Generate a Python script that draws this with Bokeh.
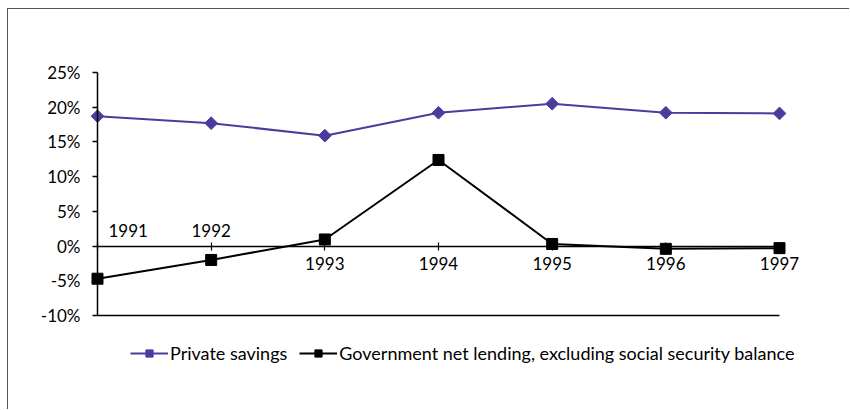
import math
from bokeh.plotting import figure
from bokeh.models import (ColumnDataSource, FixedTicker, PrintfTickFormatter,
                          Legend, LegendItem, Range1d)
from bokeh.core.properties import value
from bokeh.embed import file_html
from bokeh.resources import INLINE

YEARS = [1991, 1992, 1993, 1994, 1995, 1996, 1997]
YEAR_LABELS = ["1991", "1992", "1993", "1994", "1995", "1996", "1997"]
PRIVATE_SAVINGS = [18.7, 17.7, 15.9, 19.2, 20.5, 19.2, 19.1]
GOV_NET_LENDING = [-4.7, -2.0, 0.95, 12.4, 0.3, -0.4, -0.3]
Y_TICKS = [-10, -5, 0, 5, 10, 15, 20, 25]
SERIES_NAMES = ["Private savings",
                "Government net lending, excluding social security balance"]

FONT = "Lato"
PURPLE = "#4a3c9c"

p = figure(width=842, height=401, output_backend="svg", toolbar_location=None,
           x_range=Range1d(1990.305, 1997.563),
           y_range=Range1d(-22.82, 32.63),
           min_border_left=10, min_border_right=7, min_border_top=10,
           min_border_bottom=6,
           styles={"margin-left": "7px", "margin-top": "8px",
                   "border-top": "1px solid #555", "border-left": "1px solid #555"})
p.outline_line_color = None
p.xgrid.visible = False
p.ygrid.visible = False
p.background_fill_color = "white"
p.border_fill_color = "white"

# y axis at first category
yax = p.yaxis[0]
yax.fixed_location = YEARS[0]
yax.ticker = FixedTicker(ticks=Y_TICKS)
yax.bounds = (Y_TICKS[0], Y_TICKS[-1])
yax.formatter = PrintfTickFormatter(format="%d%%")
yax.major_tick_in = 0
yax.major_tick_out = 5
yax.minor_tick_line_color = None
yax.major_label_standoff = 12
yax.axis_line_color = "black"
yax.axis_line_width = 1.5
yax.major_tick_line_width = 1.5
yax.major_label_text_font = FONT
yax.major_label_text_font_size = "17px"
yax.major_label_text_color = "black"

# x axis crossing at zero
xax = p.xaxis[0]
xax.fixed_location = 0
xax.ticker = FixedTicker(ticks=YEARS)
xax.bounds = (YEARS[0], YEARS[-1])
xax.major_label_overrides = {YEARS[0]: "", YEARS[1]: ""}
xax.major_tick_in = 4
xax.major_tick_out = 4
xax.minor_tick_line_color = None
xax.major_label_standoff = 7
xax.axis_line_color = "black"
xax.axis_line_width = 1.5
xax.major_tick_line_width = 1.2
xax.major_label_text_font = FONT
xax.major_label_text_font_size = "17px"
xax.major_label_text_color = "black"

# labels for the first two years sit above the axis
up_src = ColumnDataSource(dict(x=YEARS[:2], y=[0, 0], text=YEAR_LABELS[:2],
                               align=["left", "center"], xoff=[11, 0]))
p.text(x="x", y="y", text="text", source=up_src, text_align="align",
       x_offset="xoff", y_offset=-9, text_baseline="bottom",
       text_font=value(FONT), text_font_size="17px", text_color="black")

# bottom border of plot area
p.line(x=[YEARS[0], YEARS[-1]], y=[Y_TICKS[0], Y_TICKS[0]],
       line_color="black", line_width=1.5)

src = ColumnDataSource(dict(x=YEARS, ps=PRIVATE_SAVINGS, gl=GOV_NET_LENDING,
                            ang=[math.pi / 4] * len(YEARS)))
l1 = p.line("x", "ps", source=src, line_color=PURPLE, line_width=2)
m1 = p.scatter("x", "ps", source=src, marker="square", size=9, angle="ang",
               fill_color=PURPLE, line_color=PURPLE)
l2 = p.line("x", "gl", source=src, line_color="black", line_width=2)
m2 = p.scatter("x", "gl", source=src, marker="square", size=11,
               fill_color="black", line_color="black")

legend = Legend(items=[LegendItem(label=SERIES_NAMES[0], renderers=[l1, m1], index=0),
                       LegendItem(label=SERIES_NAMES[1], renderers=[l2, m2])],
                orientation="horizontal", location=(112, 40),
                padding=0, margin=0, spacing=12, label_standoff=2,
                glyph_width=38, glyph_height=18,
                border_line_alpha=0, background_fill_alpha=0,
                label_text_font=FONT, label_text_font_size="18px",
                label_text_color="black")
p.add_layout(legend, "center")

open("out.html", "w").write(file_html(p, INLINE))
